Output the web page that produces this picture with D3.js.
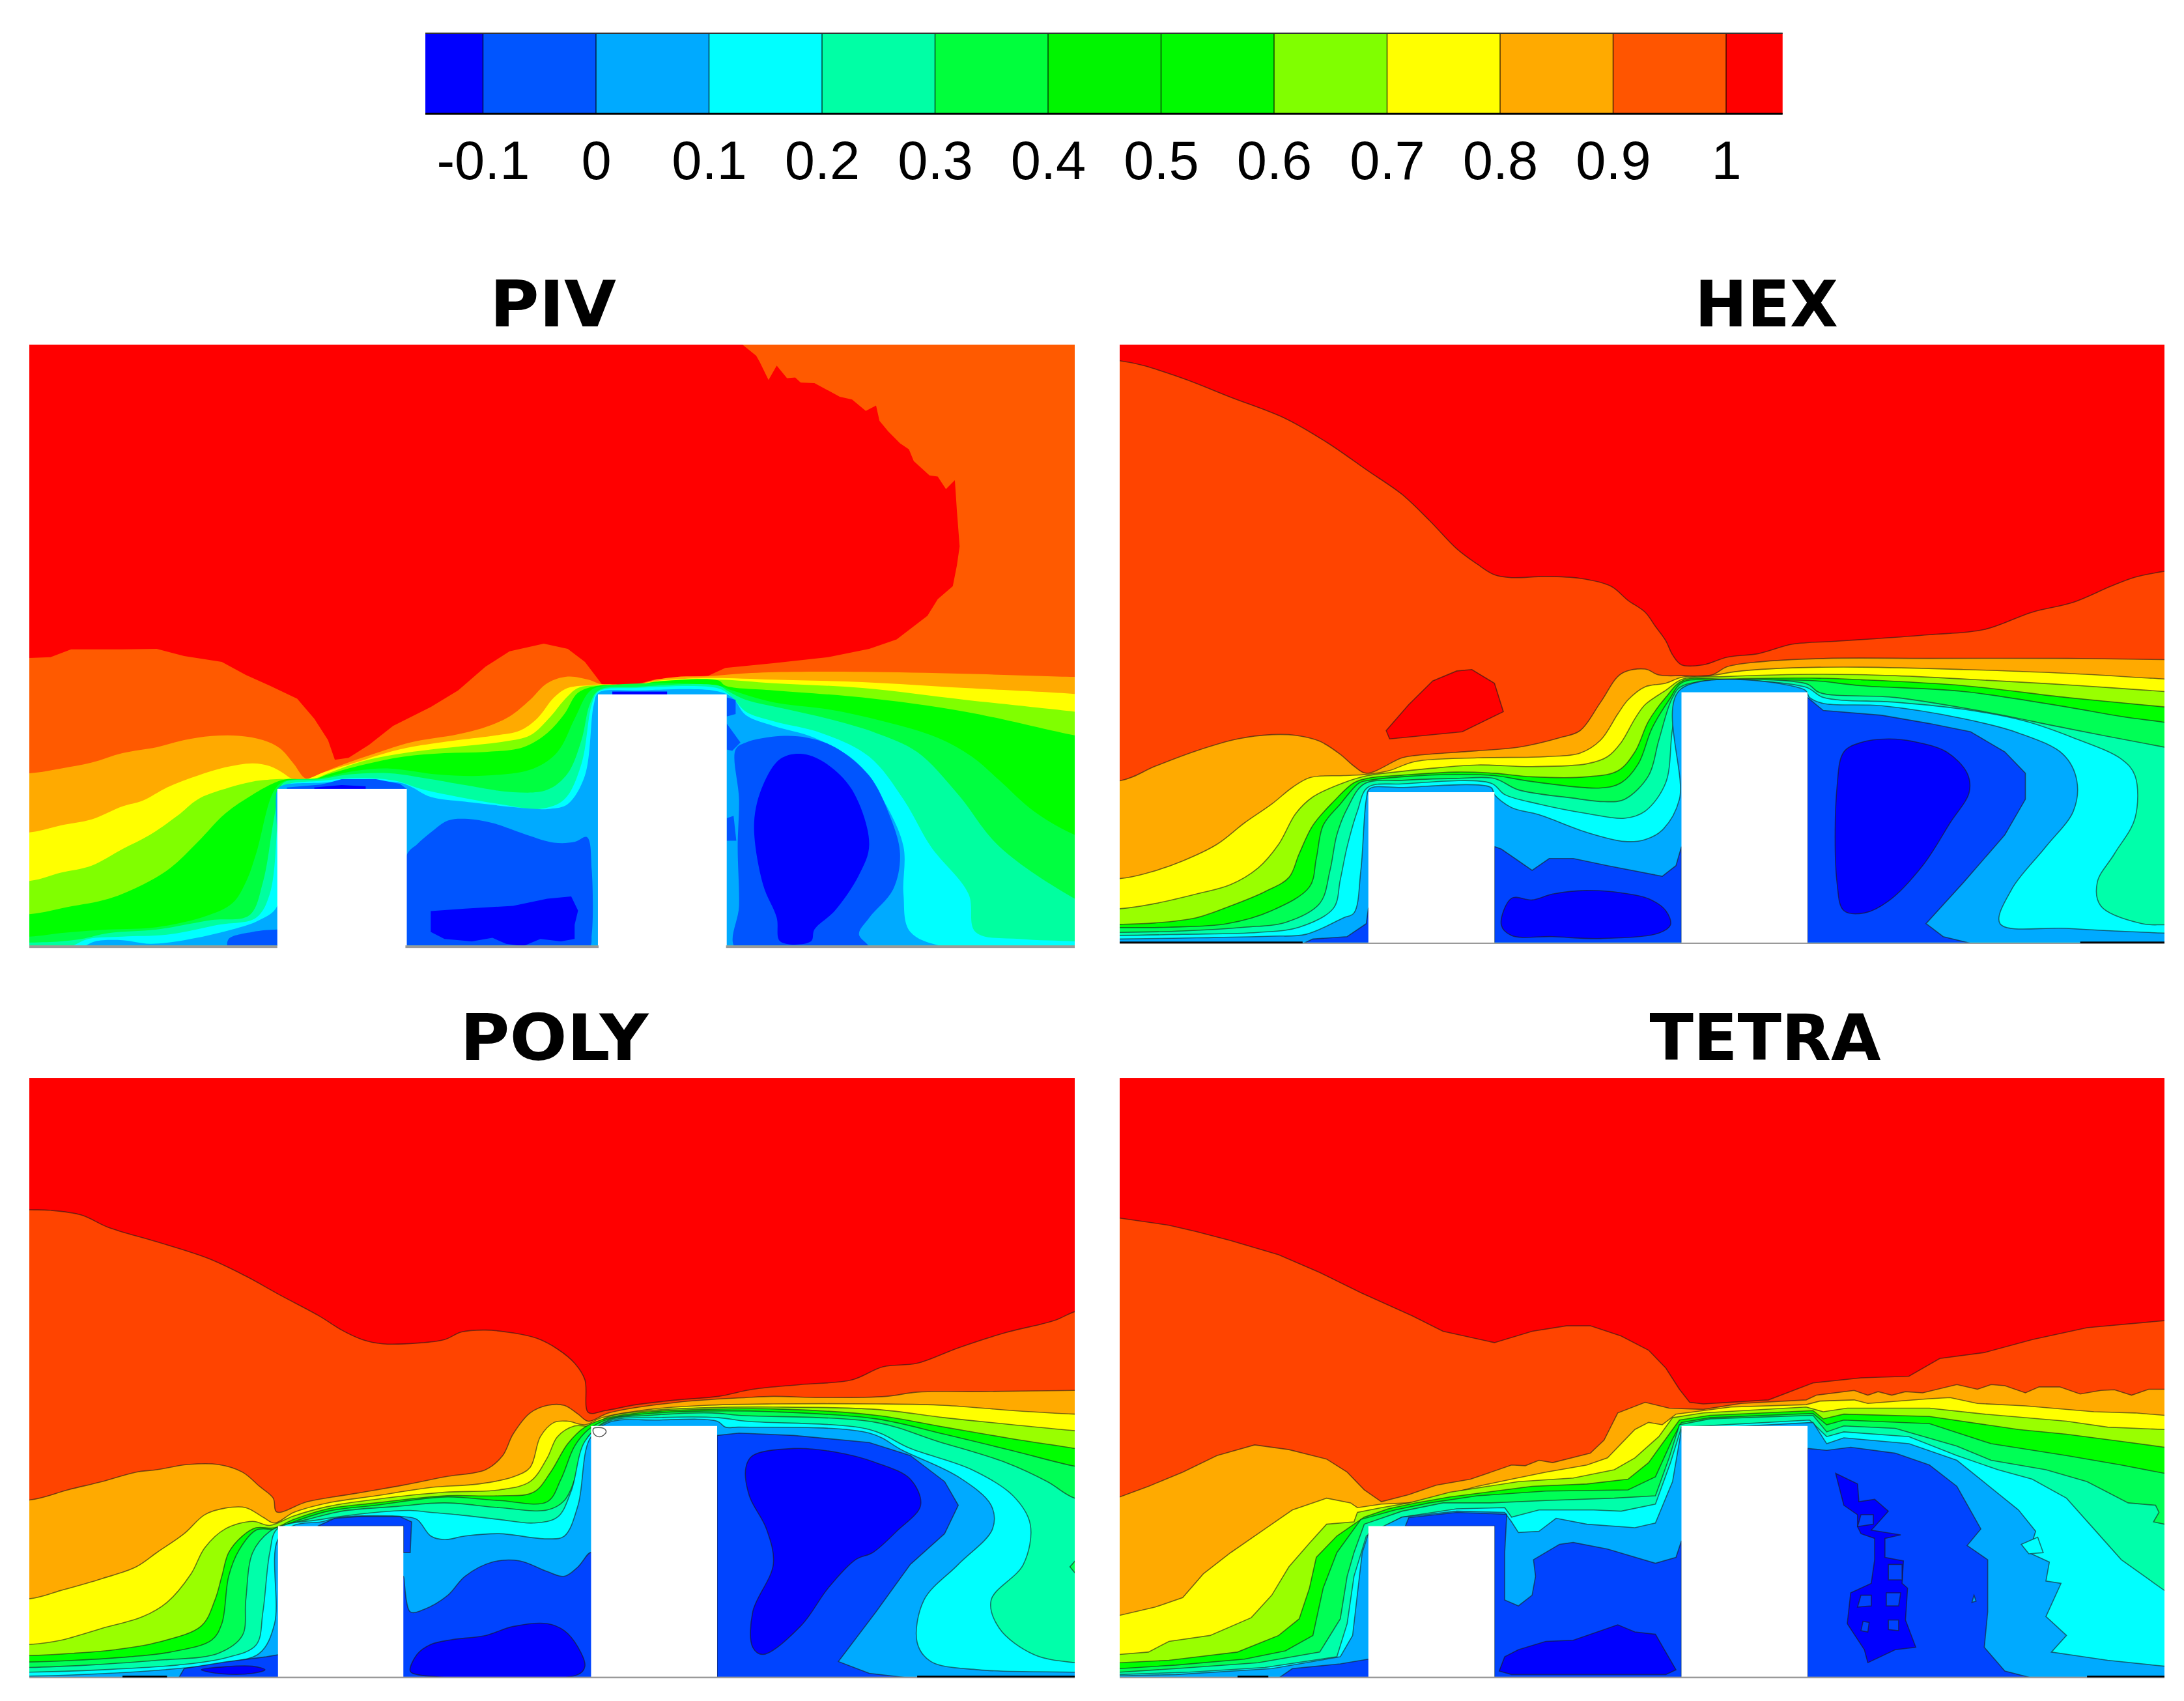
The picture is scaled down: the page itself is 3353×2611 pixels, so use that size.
<!DOCTYPE html>
<html><head><meta charset="utf-8">
<script src="https://cdnjs.cloudflare.com/ajax/libs/d3/7.8.5/d3.min.js"></script>
<style>html,body{margin:0;padding:0;background:#fff}svg{display:block}</style>
</head><body><svg id="chart" width="3353" height="2611"></svg>
<script>
/* ---------- colour bar ---------- */
const colorbarEdges = [-0.151,-0.1,0,0.1,0.2,0.3,0.4,0.5,0.6,0.7,0.8,0.9,1,1.05];
const colorbarColors = ["#0000ff","#0055ff","#00aaff","#00ffff","#00ffa5","#00ff3c","#00f500","#00fa00","#80ff00","#ffff00","#ffaa00","#ff5500","#ff0000"];
const colorbarTicks = [-0.1,0,0.1,0.2,0.3,0.4,0.5,0.6,0.7,0.8,0.9,1];
const panelTitles = ["PIV","HEX","POLY","TETRA"];
const pivColors = ["#ff0000","#ff5a00","#ffaa00","#ffff00","#80ff00","#00ff00","#00ff40","#00ffa0","#00ffff","#00aaff","#0055ff","#0000ff"];
const cfdColors = ["#ff0000","#ff4400","#ffaa00","#ffff00","#99ff00","#00ff00","#00ff55","#00ffaa","#00ffff","#00aaff","#0044ff","#0000ff"];

/* ---------- PIV contour boundaries (picture coordinates X, Y) ---------- */
const pivB1=[[14,303],[45,300],[75,267],[150,267],[200,265],[240,295],[295,320],[330,375],[365,420],[405,475],[430,560],[450,650],[460,733],[480,725],[510,670],[545,590],[600,510],[640,440],[680,340],[715,275],[765,243],[800,265],[825,320],[850,415],[900,415],[930,392],[1005,378],[1030,345],[1100,325],[1180,300],[1240,265],[1280,225],[1325,125],[1340,55],[1362,0],[1368,-88],[1372,-168],[1368,-318],[1365,-448],[1352,-410],[1340,-463],[1328,-468],[1305,-528],[1298,-578],[1285,-603],[1268,-653],[1255,-698],[1250,-763],[1235,-740],[1215,-788],[1197,-800],[1160,-858],[1140,-860],[1132,-881],[1120,-878],[1105,-931],[1093,-871],[1080,-948],[1075,-973],[1055,-1020],[1045,-1100],[1600,-1100]];
const pivB2=[[14,790],[60,770],[105,745],[150,705],[200,680],[240,650],[280,633],[320,632],[355,650],[380,685],[400,750],[418,812],[440,790],[470,755],[520,705],[570,660],[640,625],[680,595],[715,550],[745,480],[770,410],[800,382],[830,395],[850,415],[900,415],[930,395],[965,382],[1005,380],[1060,368],[1130,362],[1230,362],[1380,370],[1540,383],[1600,385]];
const pivB3=[[14,1040],[60,1010],[105,985],[150,930],[180,905],[215,850],[260,800],[300,765],[340,748],[365,760],[385,790],[397,812],[418,815],[445,785],[490,745],[540,700],[580,675],[640,650],[695,630],[730,610],[755,560],[780,470],[800,430],[835,418],[850,415],[900,415],[930,400],[965,392],[1015,388],[1100,395],[1230,405],[1380,430],[1540,455],[1600,470]];
const pivB4=[[14,1245],[60,1210],[105,1180],[150,1110],[190,1050],[230,970],[260,900],[295,860],[340,825],[375,815],[430,812],[450,790],[500,740],[550,710],[600,690],[660,672],[710,655],[745,630],[775,550],[795,480],[815,430],[845,418],[900,416],[930,402],[1020,395],[1100,410],[1230,430],[1380,480],[1540,530],[1600,550]];
const pivB5=[[14,1385],[70,1355],[130,1320],[180,1260],[220,1190],[260,1080],[300,960],[340,880],[372,830],[390,815],[430,815],[450,795],[500,755],[560,720],[620,705],[680,700],[735,680],[770,620],[795,540],[815,450],[845,420],[900,418],[930,403],[1020,398],[1030,420],[1100,440],[1230,470],[1380,530],[1540,630],[1600,660]];
const pivB6=[[14,1480],[60,1465],[130,1450],[200,1440],[270,1395],[310,1340],[330,1250],[345,1130],[370,870],[385,825],[440,810],[490,780],[540,770],[610,795],[680,800],[750,770],[785,700],[810,560],[830,450],[845,425],[1020,420],[1040,440],[1100,490],[1180,520],[1260,570],[1340,640],[1390,720],[1430,820],[1480,950],[1540,1050],[1600,1100]];
const pivB7=[[14,1505],[60,1500],[90,1490],[130,1465],[200,1450],[280,1410],[335,1390],[355,1250],[370,1000],[378,880],[385,830],[440,815],[480,795],[540,790],[600,815],[650,840],[720,870],[770,860],[800,790],[820,650],[832,500],[845,440],[900,425],[1020,420],[1035,445],[1060,480],[1120,520],[1180,560],[1250,620],[1310,700],[1370,880],[1430,1100],[1540,1320],[1600,1400]];
const pivB8=[[60,1535],[80,1515],[100,1490],[150,1480],[220,1470],[290,1430],[345,1400],[365,1300],[376,1000],[378,870],[390,838],[440,822],[490,810],[545,820],[590,860],[640,890],[700,920],[760,940],[795,900],[820,750],[835,500],[845,445],[900,430],[1020,432],[1040,470],[1060,530],[1100,570],[1170,620],[1240,720],[1290,900],[1330,1100],[1385,1300],[1395,1460],[1460,1490],[1540,1500],[1600,1510]];
const pivB9=[[80,1540],[95,1520],[110,1500],[150,1495],[190,1510],[240,1495],[310,1450],[350,1410],[376,1350],[376,860],[385,840],[440,830],[500,825],[555,830],[570,845],[600,890],[650,910],[750,940],[775,940],[800,920],[825,800],[838,500],[845,450],[900,440],[1015,442],[1040,470],[1060,545],[1100,590],[1160,640],[1220,740],[1260,900],[1290,1100],[1290,1300],[1300,1460],[1370,1535],[1600,1600]];
const pivP10a=[[305,1530],[305,1490],[340,1460],[376,1450],[400,1450],[400,1530]];
const pivP10b=[[565,1135],[580,1090],[600,1040],[625,990],[650,982],[690,1000],[740,1050],[780,1083],[810,1080],[828,1060],[835,1200],[835,1470],[830,1530],[565,1530]];
const pivP10c=[[390,850],[440,838],[470,815],[520,815],[555,835],[565,856],[390,856]];
const pivP10d=[[1045,690],[1060,660],[1110,633],[1150,640],[1190,680],[1240,800],[1270,970],[1285,1130],[1275,1280],[1240,1400],[1225,1470],[1240,1530],[1045,1530],[1050,1350],[1048,1100],[1050,900]];
const pivP10e=[[1032,470],[1045,480],[1045,540],[1032,550]];
const pivP10f=[[1032,580],[1052,660],[1040,695],[1032,690]];
const pivP10g=[[1032,980],[1042,970],[1046,1075],[1032,1075]];
const pivP11a=[[430,850],[470,840],[505,845],[505,856],[430,856]];
const pivP11b=[[865,445],[945,445],[945,457],[865,457]];
const pivP11c=[[600,1372],[650,1362],[720,1350],[770,1320],[805,1310],[815,1370],[810,1430],[810,1490],[790,1500],[760,1490],[735,1520],[710,1510],[690,1485],[660,1500],[620,1490],[600,1460]];
const pivP11d=[[1072,1000],[1085,840],[1110,730],[1140,708],[1175,745],[1215,860],[1240,1090],[1225,1220],[1190,1370],[1160,1450],[1155,1500],[1110,1500],[1105,1400],[1085,1260]];

/* ---------- HEX ---------- */
const hexB1=[[18,-952],[100,-888],[180,-798],[260,-708],[320,-608],[380,-488],[430,-388],[470,-278],[510,-158],[540,-93],[565,-48],[590,-36],[640,-41],[690,-33],[735,0],[760,60],[785,110],[800,170],[815,230],[825,290],[838,332],[870,332],[905,300],[950,285],[1000,245],[1060,233],[1120,222],[1200,205],[1280,183],[1350,110],[1410,68],[1465,0],[1500,-38],[1543,-63],[1600,-90]];
const hexIsland=[[510,358],[532,352],[565,410],[578,530],[518,615],[412,645],[407,610],[440,500],[475,400]];
const hexB2=[[18,822],[70,760],[130,695],[190,645],[240,627],[275,630],[310,655],[340,710],[360,760],[378,790],[430,725],[450,715],[540,695],[600,680],[660,640],[690,610],[720,490],[750,370],[785,350],[805,375],[838,378],[882,375],[905,340],[950,320],[1050,305],[1200,305],[1400,305],[1543,310],[1600,310]];
const hexB3=[[18,1235],[60,1210],[110,1160],[160,1090],[200,1000],[240,920],[270,850],[296,808],[345,800],[378,795],[410,780],[450,740],[540,725],[640,720],[690,705],[720,650],[745,540],[760,480],[785,425],[815,410],[838,385],[880,378],[920,360],[1000,345],[1100,342],[1250,352],[1400,368],[1543,392],[1600,400]];
const hexB4=[[18,1362],[70,1340],[130,1300],[180,1260],[220,1190],[250,1090],[275,960],[300,890],[345,830],[380,800],[420,785],[470,770],[540,755],[620,762],[700,750],[730,720],[750,660],[770,560],[785,500],[815,440],[840,392],[900,382],[1040,372],[1150,378],[1300,400],[1420,420],[1543,445],[1600,455]];
const hexB5=[[18,1428],[70,1422],[130,1400],[180,1350],[230,1290],[265,1230],[280,1130],[300,1010],[330,910],[360,830],[382,810],[430,798],[510,785],[565,790],[620,805],[700,805],[745,780],[770,700],[790,570],[815,470],[840,398],[900,392],[1025,388],[1100,395],[1250,420],[1400,470],[1543,510],[1600,530]];
const hexB6=[[18,1442],[90,1440],[175,1425],[240,1370],[295,1270],[305,1150],[315,1010],[340,920],[368,830],[382,820],[430,805],[510,795],[565,800],[620,825],[720,852],[750,830],[775,750],[795,600],[820,480],[840,405],[900,400],[1025,398],[1100,420],[1250,445],[1400,510],[1480,550],[1543,575],[1600,600]];
const hexB7=[[18,1462],[110,1456],[200,1440],[260,1420],[310,1340],[325,1200],[335,1050],[350,940],[375,835],[430,820],[510,812],[565,812],[600,860],[680,895],[725,910],[755,900],[790,800],[805,650],[825,470],[840,420],[1020,412],[1040,450],[1150,470],[1280,530],[1400,600],[1543,680],[1600,710]];
const hexB8=[[18,1475],[110,1470],[220,1462],[280,1440],[330,1360],[340,1240],[350,1100],[365,950],[380,850],[430,835],[560,832],[580,880],[630,920],[700,960],[755,980],[785,950],[815,830],[825,600],[838,435],[1018,425],[1045,470],[1150,490],[1250,520],[1340,570],[1410,640],[1480,730],[1500,800],[1500,980],[1470,1130],[1445,1250],[1450,1350],[1510,1425],[1543,1430],[1600,1432]];
const hexB9=[[18,1490],[130,1485],[240,1478],[290,1470],[345,1400],[360,1380],[370,1200],[378,900],[383,855],[430,850],[560,850],[565,880],[590,935],[630,965],[700,1040],[755,1078],[785,1070],[810,1030],[835,900],[835,440],[1018,438],[1025,470],[1045,495],[1130,505],[1250,560],[1330,620],[1395,710],[1415,820],[1410,950],[1370,1100],[1320,1280],[1303,1425],[1400,1445],[1543,1465],[1600,1470]];
const hexP10a=[[285,1510],[300,1490],[350,1480],[378,1425],[381,1360],[420,1360],[420,1510]];
const hexP10b=[[565,1100],[575,1110],[595,1150],[620,1200],[645,1150],[680,1150],[730,1180],[810,1225],[830,1180],[838,1100],[838,1520],[565,1520]];
const hexP10c=[[1022,470],[1045,525],[1130,545],[1200,580],[1260,615],[1310,700],[1340,790],[1340,900],[1310,1050],[1250,1250],[1195,1425],[1220,1480],[1270,1515],[1022,1515]];
const hexP11a=[[590,1318],[620,1325],[650,1300],[700,1285],[750,1295],[790,1320],[815,1370],[822,1430],[805,1465],[720,1488],[650,1480],[590,1475],[575,1430]];
const hexP11b=[[1075,700],[1100,660],[1140,645],[1175,655],[1225,700],[1255,790],[1258,870],[1230,1000],[1190,1180],[1140,1330],[1105,1380],[1075,1370],[1065,1250],[1065,850]];

/* ---------- POLY ---------- */
const polyB1=[[14,-448],[45,-446],[90,-426],[130,-373],[200,-313],[275,-243],[330,-168],[380,-88],[437,0],[470,60],[500,100],[530,118],[580,115],[620,100],[645,68],[680,60],[720,72],[755,95],[785,140],[810,200],[825,270],[830,408],[855,400],[900,375],[960,355],[1020,340],[1070,310],[1140,290],[1215,270],[1260,215],[1310,200],[1370,135],[1440,70],[1510,20],[1540,-18],[1600,-60]];
const polyB2=[[14,778],[70,735],[120,700],[170,660],[200,650],[245,628],[290,628],[325,660],[350,720],[370,770],[375,828],[420,785],[490,750],[560,715],[620,680],[680,650],[705,590],[720,500],[745,410],[770,378],[795,378],[815,415],[830,445],[860,410],[960,365],[1060,345],[1100,340],[1170,345],[1265,340],[1310,322],[1400,320],[1540,315],[1600,315]];
const polyB3=[[14,1195],[60,1160],[120,1110],[170,1060],[200,1000],[240,920],[270,840],[300,812],[330,810],[355,850],[372,875],[400,830],[450,790],[520,760],[600,725],[670,710],[720,680],[745,640],[760,510],[780,450],[800,445],[825,460],[850,430],[920,395],[1000,378],[1100,372],[1250,372],[1350,378],[1450,400],[1540,415],[1600,420]];
const polyB4=[[14,1388],[60,1370],[120,1320],[180,1270],[215,1210],[250,1090],[270,980],[300,900],[340,868],[365,885],[400,845],[450,805],[520,775],[620,745],[700,735],[745,700],[770,600],[785,510],[810,465],[835,465],[860,425],[920,400],[1000,388],[1100,385],[1250,395],[1350,430],[1450,460],[1540,485],[1600,495]];
const polyB5=[[14,1435],[80,1425],[140,1410],[200,1380],[265,1310],[285,1200],[295,1100],[305,1000],[325,930],[345,895],[372,895],[400,860],[450,815],[520,790],[620,760],[700,760],[750,745],[775,660],[800,540],[825,470],[860,430],[920,405],[1000,395],[1100,393],[1250,420],[1350,470],[1450,520],[1540,560],[1600,590]];
const polyB6=[[14,1462],[80,1455],[160,1440],[220,1420],[280,1370],[295,1300],[305,1100],[320,990],[345,905],[375,900],[400,870],[450,825],[520,800],[620,765],[700,780],[770,785],[790,690],[810,550],[830,480],[860,435],[920,412],[1000,402],[1100,405],[1250,435],[1350,500],[1450,570],[1540,635],[1600,660]];
const polyB7=[[14,1485],[100,1475],[200,1455],[290,1425],[325,1350],[330,1200],[340,1000],[365,910],[385,885],[420,860],[470,825],[550,805],[620,790],[700,810],[770,820],[795,780],[815,650],[830,510],[860,440],[920,420],[1010,410],[1050,420],[1250,450],[1340,530],[1440,620],[1500,700],[1540,770],[1600,790]];
const polyP6b=[[1542,1030],[1533,1060],[1542,1092],[1600,1092],[1600,1030]];
const polyB8=[[14,1505],[120,1495],[230,1475],[300,1445],[345,1390],[355,1250],[365,1000],[376,900],[440,860],[520,830],[570,822],[600,830],[640,840],[700,860],[750,875],[785,850],[805,740],[825,530],[860,445],[930,430],[1020,430],[1060,445],[1240,480],[1300,560],[1390,650],[1450,760],[1475,880],[1465,1050],[1418,1200],[1430,1320],[1480,1430],[1540,1465],[1600,1470]];
const polyB9=[[14,1522],[130,1510],[230,1490],[300,1465],[350,1425],[372,1300],[376,950],[400,885],[440,870],[470,850],[560,848],[580,860],[600,930],[620,945],[650,930],[700,920],[770,942],[795,930],[815,800],[832,520],[860,450],[930,440],[1018,445],[1030,470],[1050,470],[1240,495],[1290,570],[1370,680],[1418,800],[1420,900],[1370,1050],[1320,1200],[1310,1380],[1330,1460],[1400,1495],[1540,1505],[1600,1510]];
const polyP10a=[[232,1530],[240,1490],[300,1462],[360,1440],[400,1420],[400,1530]];
const polyP10b=[[435,888],[460,855],[500,847],[555,848],[572,870],[570,1000],[560,1000],[560,888]];
const polyP10c=[[560,1100],[570,1250],[590,1240],[625,1180],[650,1100],[690,1040],[730,1035],[770,1080],[795,1100],[815,1060],[834,1000],[834,1530],[560,1530]];
const polyP10d=[[1018,505],[1050,495],[1130,505],[1240,535],[1300,590],[1350,700],[1370,800],[1350,920],[1300,1050],[1250,1250],[1195,1460],[1240,1510],[1300,1530],[1018,1530]];
const polyP11a=[[265,1495],[300,1482],[340,1480],[358,1495],[340,1510],[295,1512]];
const polyP11b=[[600,1388],[630,1368],[680,1350],[720,1312],[770,1300],[795,1330],[815,1400],[825,1480],[815,1515],[580,1515],[570,1500],[580,1430]];
const polyP11c=[[1060,640],[1070,590],[1130,560],[1190,575],[1250,620],[1300,690],[1315,800],[1280,910],[1245,1000],[1220,1030],[1180,1150],[1140,1310],[1085,1430],[1070,1400],[1070,1250],[1100,1050],[1090,900],[1065,760]];
const polyMarker=[[838,475],[852,475],[856,490],[850,508],[842,508],[837,490]];

/* ---------- TETRA ---------- */
const tetraB1=[[18,-413],[90,-383],[130,-356],[180,-318],[250,-258],[310,-183],[370,-98],[445,0],[490,65],[565,113],[620,65],[670,42],[705,42],[750,85],[790,145],[815,220],[835,310],[850,365],[870,372],[965,355],[1030,283],[1100,262],[1170,255],[1215,180],[1280,155],[1350,100],[1430,50],[1543,20],[1600,5]];
const tetraB2=[[18,765],[60,720],[110,660],[160,590],[215,545],[265,565],[320,605],[350,660],[375,735],[400,785],[440,755],[480,715],[530,690],[590,630],[610,633],[630,610],[650,620],[705,580],[725,525],[745,410],[785,365],[820,390],[870,395],[925,370],[1020,355],[1035,335],[1090,315],[1110,335],[1125,320],[1145,335],[1165,320],[1190,325],[1240,290],[1270,310],[1290,290],[1310,295],[1340,325],[1360,300],[1390,300],[1420,330],[1450,315],[1470,312],[1495,335],[1520,310],[1543,310],[1600,310]];
const tetraB3=[[18,1265],[70,1230],[110,1190],[140,1090],[180,1000],[230,900],[270,820],[320,770],[355,790],[365,810],[400,795],[440,790],[470,775],[540,720],[590,690],[640,660],[700,630],[730,600],[770,480],[790,450],[810,460],[830,415],[870,400],[910,385],[1020,375],[1040,360],[1090,355],[1110,370],[1200,350],[1230,345],[1270,370],[1340,380],[1440,405],[1500,410],[1543,420],[1600,425]];
const tetraB4=[[18,1430],[60,1420],[90,1375],[150,1350],[210,1275],[240,1180],[265,1060],[295,960],[320,880],[360,870],[365,830],[400,810],[440,790],[500,745],[600,700],[680,685],[740,650],[770,600],[805,510],[825,430],[870,410],[1020,385],[1045,405],[1080,390],[1200,390],[1280,415],[1400,445],[1460,470],[1543,480],[1600,485]];
const tetraB5=[[18,1465],[90,1455],[190,1420],[250,1350],[280,1280],[295,1150],[305,1020],[335,930],[375,850],[410,815],[450,790],[500,765],[620,720],[700,710],[760,690],[790,620],[820,500],[835,440],[880,420],[1030,400],[1045,435],[1075,415],[1200,425],[1330,480],[1400,500],[1480,530],[1543,555],[1600,575]];
const tetraB6=[[18,1490],[100,1475],[200,1450],[260,1415],[300,1350],[315,1150],[335,1000],[370,860],[420,820],[470,790],[540,760],[640,740],[760,735],[800,680],[825,520],[838,450],[880,430],[1030,412],[1050,460],[1075,440],[1200,455],[1290,540],[1400,590],[1480,630],[1543,665],[1600,690]];
const tetraB7=[[18,1505],[100,1490],[220,1465],[310,1420],[340,1280],[350,1100],[360,1000],[375,880],[430,825],[490,790],[560,790],[640,780],[740,770],[800,760],[820,600],[835,460],[880,435],[1030,420],[1050,490],[1075,465],[1150,475],[1240,550],[1290,610],[1370,650],[1430,700],[1490,790],[1530,800],[1535,830],[1527,870],[1543,880],[1600,900]];
const tetraB8=[[18,1515],[120,1505],[230,1485],[335,1440],[350,1300],[360,1100],[378,930],[430,850],[510,815],[580,810],[590,850],[630,820],[710,820],[750,825],[800,795],[822,620],[838,470],[1025,440],[1050,510],[1075,490],[1170,510],[1240,590],[1300,650],[1350,690],[1400,770],[1440,900],[1480,1030],[1543,1160],[1600,1190]];
const tetraB9=[[18,1520],[100,1515],[240,1490],[340,1440],[358,1350],[372,1000],[381,920],[430,850],[510,825],[580,830],[590,870],[600,915],[630,910],[655,855],[700,880],[770,895],[800,875],[825,700],[838,480],[1030,450],[1050,540],[1075,515],[1170,540],[1240,610],[1300,750],[1330,820],[1355,910],[1345,1000],[1375,1040],[1370,1120],[1392,1130],[1370,1270],[1400,1350],[1378,1420],[1460,1455],[1543,1480],[1600,1490]];
const tetraNotch=[[1358,935],[1366,1000],[1345,1005],[1334,965]];
const tetraP10a=[[250,1530],[270,1490],[340,1470],[381,1450],[400,1450],[400,1530]];
const tetraP10b=[[435,888],[440,852],[510,830],[583,838],[580,1000],[580,1200],[600,1225],[620,1180],[625,1100],[622,1030],[660,965],[680,957],[730,985],[800,1045],[830,1020],[838,950],[838,1530],[565,1530],[565,888]];
const tetraP10c=[[1022,560],[1050,568],[1085,555],[1150,580],[1200,630],[1240,720],[1275,900],[1255,970],[1285,1030],[1285,1250],[1280,1400],[1310,1500],[1350,1530],[1022,1530]];
const tetraSpeck=[[1265,1180],[1268,1205],[1262,1210]];
const tetraP11a=[[572,1500],[580,1440],[600,1410],[640,1375],[680,1370],[720,1330],[745,1305],[770,1335],[800,1345],[815,1420],[830,1495],[815,1515],[590,1515]];
const tetraP11b=[[1063,665],[1095,710],[1097,785],[1120,775],[1140,825],[1120,890],[1115,905],[1158,925],[1135,940],[1135,1020],[1162,1035],[1160,1130],[1168,1150],[1165,1285],[1180,1400],[1150,1410],[1110,1465],[1105,1410],[1080,1300],[1085,1170],[1100,1150],[1115,1130],[1120,1030],[1120,940],[1100,920],[1095,890],[1095,840],[1075,800]];
const tetraHoles=[[[1100,840],[1118,840],[1118,880],[1095,890]],[[1140,1050],[1160,1050],[1160,1115],[1140,1115]],[[1137,1170],[1158,1170],[1155,1225],[1137,1225]],[[1100,1180],[1115,1180],[1115,1225],[1095,1230]],[[1103,1290],[1112,1295],[1110,1335],[1100,1330]],[[1140,1285],[1155,1285],[1155,1330],[1140,1325]]];

/* ---------- layout of the four panels, in picture coordinates ---------- */
const xDomains=[[14,1540],[18,1543],[14,1540],[18,1543]];
const yDomains=[[-1020,1522],[-1020,1522],[-1004,1525],[-1004,1525]];
const xRanges=[[45,1650],[1719,3323],[45,1650],[1719,3323]];
const yRanges=[[529,1453],[529,1453],[1655,2574],[1655,2574]];
const plotBottoms=[1517,1505,1525,1525];
const obstacleX=[[[376,565],[844,1032]],[[381,565],[838,1022]],[[377,560],[834,1018]],[[381,565],[838,1022]]];
const obstacleTop=[[856,457],[870,448],[888,465],[888,465]];
const baseSpans=[[[14,376],[563,845],[1031,1540]],[[18,1543]],[[14,1540]],[[18,1543]]];
const baseTop=[1517,1505,1524,1524];
const baseBottom=[1528,1511,1531,1531];
const blackSpans=[[],[[18,285],[1420,1543]],[[150,215],[1310,1540]],[[190,235],[1430,1543]]];
const titleX=[849,2712,851,2710];
const titleY=[501,501,1627,1627];
const titleWidths=[194,220,289,355];

/* band index, kind: b = open boundary closed below, p = smooth pocket, l = angular pocket, o = angular open boundary */
const panelLayers=[
 [[1,"o",pivB1],[2,"b",pivB2],[3,"b",pivB3],[4,"b",pivB4],[5,"b",pivB5],[6,"b",pivB6],[7,"b",pivB7],[8,"b",pivB8],[9,"b",pivB9],
  [10,"p",pivP10a],[10,"p",pivP10b],[10,"l",pivP10c],[10,"p",pivP10d],[10,"l",pivP10e],[10,"l",pivP10f],[10,"l",pivP10g],
  [11,"l",pivP11a],[11,"l",pivP11b],[11,"l",pivP11c],[11,"p",pivP11d]],
 [[1,"b",hexB1],[0,"l",hexIsland],[2,"b",hexB2],[3,"b",hexB3],[4,"b",hexB4],[5,"b",hexB5],[6,"b",hexB6],[7,"b",hexB7],[8,"b",hexB8],[9,"b",hexB9],
  [10,"l",hexP10a],[10,"l",hexP10b],[10,"l",hexP10c],[11,"p",hexP11a],[11,"p",hexP11b]],
 [[1,"b",polyB1],[2,"b",polyB2],[3,"b",polyB3],[4,"b",polyB4],[5,"b",polyB5],[6,"b",polyB6],[7,"b",polyB7],[6,"l",polyP6b],[8,"b",polyB8],[9,"b",polyB9],
  [10,"l",polyP10a],[10,"l",polyP10b],[10,"p",polyP10c],[10,"l",polyP10d],[11,"p",polyP11a],[11,"p",polyP11b],[11,"p",polyP11c]],
 [[1,"o",tetraB1],[2,"o",tetraB2],[3,"o",tetraB3],[4,"o",tetraB4],[5,"o",tetraB5],[6,"o",tetraB6],[7,"o",tetraB7],[8,"o",tetraB8],[9,"o",tetraB9],[8,"l",tetraNotch],
  [10,"l",tetraP10a],[10,"l",tetraP10b],[10,"l",tetraP10c],[9,"l",tetraSpeck],[11,"l",tetraP11a],[11,"l",tetraP11b],
  ...tetraHoles.map(h=>[10,"l",h])]
];
const panelPalettes=[pivColors,cfdColors,cfdColors,cfdColors];
const contourStroke=[null,"#1a1a1a","#1a1a1a","#1a1a1a"];

/* ---------- drawing ---------- */
const svg=d3.select("#chart");
svg.append("rect").attr("width",3353).attr("height",2611).attr("fill","#fff");

// colour bar
const barX=d3.scaleLinear().domain([0,1]).range([915,2650]);
const bar=svg.append("g");
bar.selectAll("rect.band").data(colorbarColors).join("rect").attr("class","band")
  .attr("x",(d,i)=>barX(colorbarEdges[i])).attr("width",(d,i)=>barX(colorbarEdges[i+1])-barX(colorbarEdges[i]))
  .attr("y",51).attr("height",124).attr("fill",d=>d);
bar.selectAll("line.div").data(colorbarTicks).join("line").attr("class","div")
  .attr("x1",d=>barX(d)).attr("x2",d=>barX(d)).attr("y1",51).attr("y2",175)
  .attr("stroke","#000").attr("stroke-width",1.4).attr("stroke-opacity",.8);
bar.append("rect").attr("x",barX(colorbarEdges[0])).attr("y",50).attr("width",barX(1.05)-barX(colorbarEdges[0])).attr("height",2).attr("fill","#333");
bar.append("rect").attr("x",barX(colorbarEdges[0])).attr("y",173).attr("width",barX(1.05)-barX(colorbarEdges[0])).attr("height",3).attr("fill","#000");
const axis=d3.axisBottom(barX).tickValues(colorbarTicks).tickSize(0).tickPadding(0).tickFormat(d=>String(d));
const ag=svg.append("g").attr("transform","translate(0,275)").call(axis);
ag.select(".domain").remove();
ag.selectAll("text").attr("dy",0).attr("y",0).attr("fill","#000")
  .style("font-family","'Liberation Sans',Arial,sans-serif").style("font-size","83px").attr("text-anchor","middle");

// panels
panelTitles.forEach((title,k)=>{
  const x=d3.scaleLinear().domain(xDomains[k]).range(xRanges[k]);
  const y=d3.scaleLinear().domain(yDomains[k]).range(yRanges[k]);
  const smooth=d3.line().x(d=>x(d[0])).y(d=>y(d[1])).curve(d3.curveCatmullRomClosed.alpha(0.5));
  const angular=d3.line().x(d=>x(d[0])).y(d=>y(d[1])).curve(d3.curveLinearClosed);
  const clipId="clip"+k;
  svg.append("clipPath").attr("id",clipId).append("rect")
    .attr("x",x(xDomains[k][0])).attr("y",y(yDomains[k][0]))
    .attr("width",x(xDomains[k][1])-x(xDomains[k][0])).attr("height",y(plotBottoms[k])-y(yDomains[k][0]));
  const g=svg.append("g").attr("clip-path",`url(#${clipId})`);
  const pal=panelPalettes[k];
  g.append("rect").attr("x",x(xDomains[k][0])).attr("y",y(yDomains[k][0]))
    .attr("width",x(xDomains[k][1])-x(xDomains[k][0])).attr("height",y(plotBottoms[k])-y(yDomains[k][0])).attr("fill",pal[0]);
  panelLayers[k].forEach(([band,kind,pts])=>{
    const open=kind==="b"||kind==="o";
    const poly= open ? [...pts,[1700,1700],[-150,1700],[-150,pts[0][1]]] : pts;
    const gen= (kind==="b"||kind==="p") ? smooth : angular;
    const p=g.append("path").attr("d",gen(poly)).attr("fill",pal[band]);
    if(contourStroke[k]) p.attr("stroke",contourStroke[k]).attr("stroke-width",1.6).attr("stroke-opacity",.6);
  });
  // buildings
  obstacleX[k].forEach((ox,j)=>{
    svg.append("rect").attr("x",x(ox[0])).attr("width",x(ox[1])-x(ox[0]))
      .attr("y",y(obstacleTop[k][j])).attr("height",y(baseTop[k])-y(obstacleTop[k][j])+1).attr("fill","#fff");
  });
  // ground
  baseSpans[k].forEach(s=>{
    svg.append("rect").attr("x",x(s[0])).attr("width",x(s[1])-x(s[0])).attr("y",y(baseTop[k]))
      .attr("height",y(baseBottom[k])-y(baseTop[k])).attr("fill","#9a9a9a");
  });
  blackSpans[k].forEach(s=>{
    svg.append("rect").attr("x",x(s[0])).attr("width",x(s[1])-x(s[0])).attr("y",y(baseTop[k])-1.5)
      .attr("height",2.5).attr("fill","#000");
  });
  svg.append("text").text(title).attr("x",titleX[k]).attr("y",titleY[k]).attr("text-anchor","middle")
    .attr("textLength",titleWidths[k]).attr("lengthAdjust","spacingAndGlyphs")
    .style("font-family","'DejaVu Sans',sans-serif").style("font-weight","700").style("font-size","98px").attr("fill","#000");
  if(k===2){
    svg.append("path").attr("d",smooth(polyMarker)).attr("fill","#fff").attr("stroke","#555").attr("stroke-width",1.5);
  }
});
</script></body></html>
